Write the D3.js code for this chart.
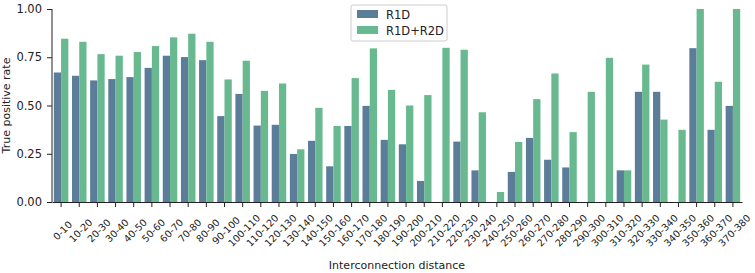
<!DOCTYPE html>
<html>
<head>
<meta charset="utf-8">
<script src="https://cdn.jsdelivr.net/npm/d3@7"></script>
<style>
  body { margin: 0; background: #fff; }
  svg text { font-family: "DejaVu Sans", sans-serif; fill: #222; }
</style>
</head>
<body>
<div id="chart"></div>
<script>
// Categories and series
const categories = ["0-10","10-20","20-30","30-40","40-50","50-60","60-70","70-80","80-90","90-100",
  "100-110","110-120","120-130","130-140","140-150","150-160","160-170","170-180","180-190","190-200",
  "200-210","210-220","220-230","230-240","240-250","250-260","260-270","270-280","280-290","290-300",
  "300-310","310-320","320-330","330-340","340-350","350-360","360-370","370-380"];

const r1d = [0.671,0.654,0.630,0.637,0.647,0.695,0.758,0.751,0.735,0.445,
  0.560,0.396,0.400,0.249,0.317,0.185,0.394,0.498,0.322,0.299,
  0.109,0,0.313,0.164,0,0.156,0.332,0.219,0.179,0,
  0,0.164,0.571,0.571,0,0.797,0.374,0.498];

const r1dr2d = [0.846,0.830,0.766,0.758,0.777,0.808,0.853,0.872,0.830,0.635,
  0.732,0.576,0.614,0.273,0.488,0.394,0.642,0.796,0.581,0.500,
  0.554,0.799,0.789,0.465,0.052,0.311,0.533,0.666,0.362,0.571,
  0.747,0.164,0.712,0.427,0.374,1.0,0.623,1.0];

const seriesNames = ["R1D", "R1D+R2D"];
const colors = ["#5b7d99", "#68b98f"];
const yTicks = [0, 0.25, 0.5, 0.75, 1.0];

const W = 755, H = 273;
const margin = {top: 9, right: 13, bottom: 71, left: 52};
const width = W - margin.left - margin.right,
      height = H - margin.top - margin.bottom;

const svg = d3.select("#chart").append("svg")
    .attr("width", W).attr("height", H);
const g = svg.append("g")
    .attr("transform", `translate(${margin.left},${margin.top})`);

// Scales
const x = d3.scaleBand().domain(categories).range([0, width]).paddingInner(0.2).paddingOuter(0.1);
const xSub = d3.scaleBand().domain(seriesNames).range([0, x.bandwidth()]);
const y = d3.scaleLinear().domain([0, 1.0]).range([height, 0]);

const data = categories.map((c, i) => ({cat: c, vals: [r1d[i], r1dr2d[i]]}));

// Bars
const groups = g.selectAll("g.grp").data(data).enter().append("g")
    .attr("class", "grp")
    .attr("transform", d => `translate(${x(d.cat)},0)`);
groups.selectAll("rect")
    .data(d => d.vals.map((v, k) => ({name: seriesNames[k], v: v, k: k})))
    .enter().append("rect")
    .attr("x", d => xSub(d.name))
    .attr("width", xSub.bandwidth())
    .attr("y", d => y(d.v))
    .attr("height", d => height - y(d.v))
    .attr("fill", d => colors[d.k]);

// Y axis
const yAxis = g.append("g")
    .call(d3.axisLeft(y).tickValues(yTicks).tickFormat(d3.format(".2f")).tickSize(5).tickPadding(5));
yAxis.selectAll("text").style("font-size", "11.5px");

// X axis - labels centred on a point below each tick, rotated 45deg
const xAxis = g.append("g")
    .attr("transform", `translate(0,${height})`)
    .call(d3.axisBottom(x).tickSize(5).tickSizeOuter(0));
xAxis.selectAll("text")
    .style("font-size", "9.7px")
    .attr("text-anchor", "middle")
    .attr("dominant-baseline", "central")
    .attr("x", null).attr("y", null).attr("dy", null)
    .attr("transform", "translate(1.5,28.5) rotate(-45)");

svg.selectAll(".domain").attr("stroke", "#222");
svg.selectAll(".tick line").attr("stroke", "#222");
yAxis.select(".domain").attr("d", `M0,${height}V0`);

// Axis labels
svg.append("text")
    .attr("x", margin.left + width / 2)
    .attr("y", H - 4)
    .attr("text-anchor", "middle")
    .style("font-size", "11px")
    .text("Interconnection distance");

svg.append("text")
    .attr("transform", `translate(10,${margin.top + height / 2}) rotate(-90)`)
    .attr("text-anchor", "middle")
    .style("font-size", "11px")
    .text("True positive rate");

// Legend
const legend = svg.append("g").attr("transform", "translate(351,5)");
legend.append("rect")
    .attr("width", 96).attr("height", 36).attr("rx", 2)
    .attr("fill", "#fff").attr("fill-opacity", 0.8)
    .attr("stroke", "#ccc");
seriesNames.forEach((n, i) => {
  legend.append("rect")
    .attr("x", 6).attr("y", 5 + i * 16)
    .attr("width", 21).attr("height", 8)
    .attr("fill", colors[i]);
  legend.append("text")
    .attr("x", 35).attr("y", 13.5 + i * 16)
    .style("font-size", "11.5px")
    .text(n);
});
</script>
</body>
</html>
